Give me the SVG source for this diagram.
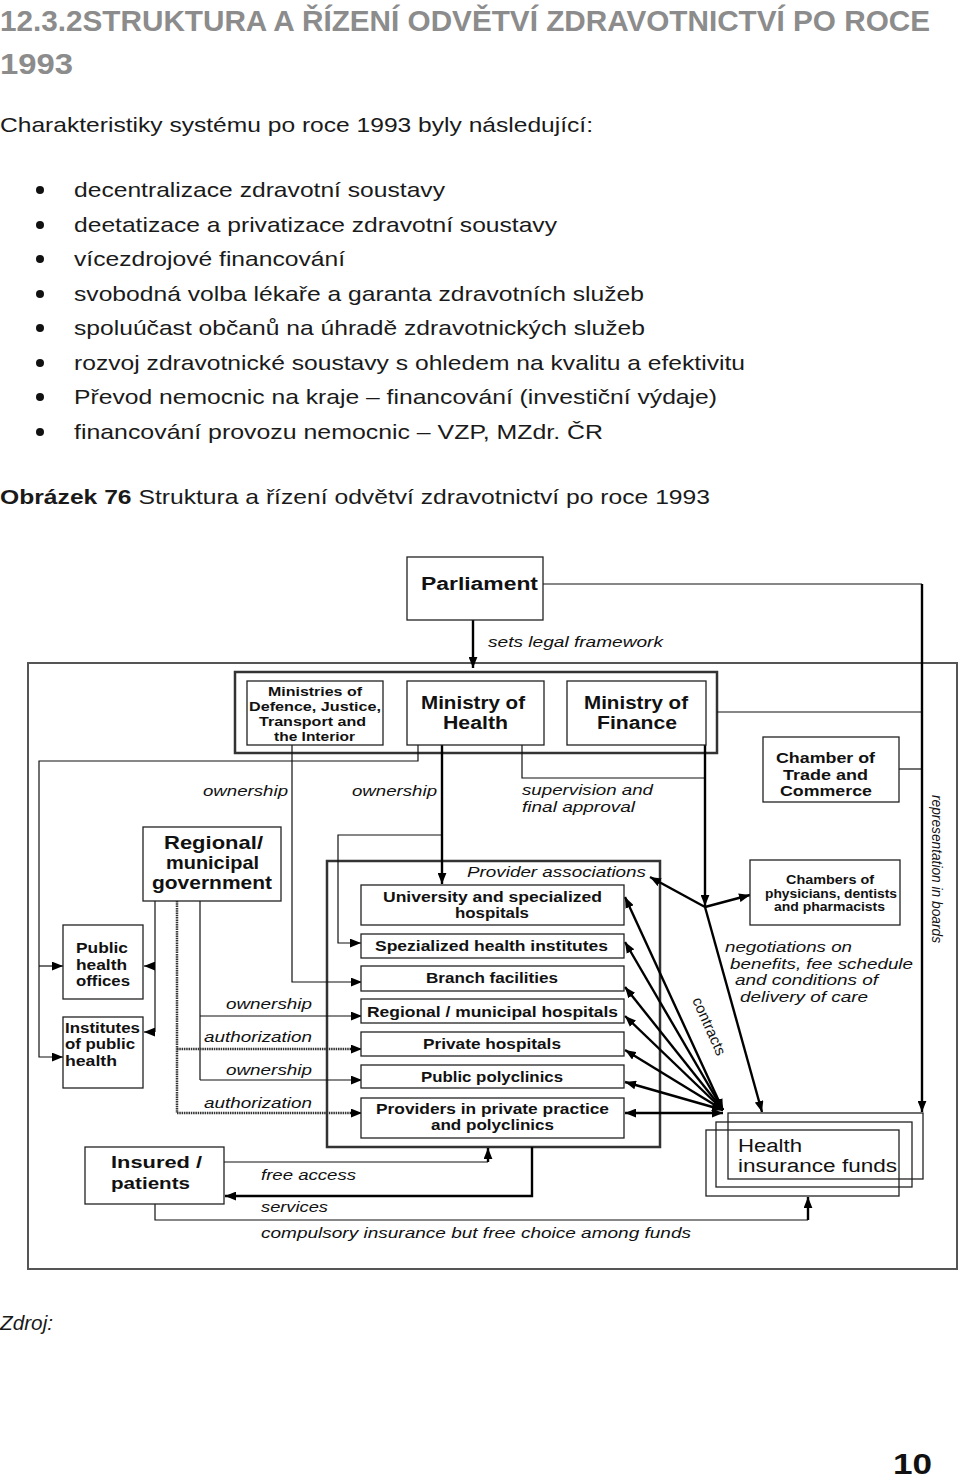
<svg xmlns="http://www.w3.org/2000/svg" width="960" height="1481" viewBox="0 0 960 1481">
<style>
.body{font-family:"Liberation Sans",Arial,sans-serif;font-size:21px;fill:#1a1a1a}
.title{font-family:"Liberation Sans Narrow","Liberation Sans",Arial,sans-serif;font-weight:bold;font-size:29px;fill:#8c8c8c}
.nb{font-family:"Liberation Sans",Arial,sans-serif;font-weight:bold;fill:#111}
.nr{font-family:"Liberation Sans",Arial,sans-serif;fill:#111}
.lab{font-family:"Liberation Sans",Arial,sans-serif;font-style:italic;font-size:14.5px;fill:#111}
.box{fill:#fff;stroke:#222;stroke-width:1.3}
.grp{fill:none;stroke:#333;stroke-width:2.5}
.thin{fill:none;stroke:#111;stroke-width:1.2}
.thick{fill:none;stroke:#000;stroke-width:2.4}
.dot{fill:none;stroke:#333;stroke-width:2.5;stroke-dasharray:1.5 0.8}
</style>
<defs>
<marker id="a" viewBox="0 0 10 8" refX="10" refY="4" markerWidth="11" markerHeight="9" markerUnits="userSpaceOnUse" orient="auto-start-reverse">
<path d="M0,0 L10,4 L0,8 z" fill="#000"/>
</marker>
</defs>
<rect width="960" height="1481" fill="#fff"/>

<!-- page text -->
<text class="title" x="0" y="31" textLength="930" lengthAdjust="spacingAndGlyphs">12.3.2STRUKTURA A ŘÍZENÍ ODVĚTVÍ ZDRAVOTNICTVÍ PO ROCE</text>
<text class="title" x="0" y="74" textLength="73" lengthAdjust="spacingAndGlyphs">1993</text>
<text class="body" x="0" y="132" textLength="593" lengthAdjust="spacingAndGlyphs">Charakteristiky systému po roce 1993 byly následující:</text>
<g fill="#111">
<circle cx="40" cy="190" r="4"/><circle cx="40" cy="225" r="4"/><circle cx="40" cy="259" r="4"/><circle cx="40" cy="294" r="4"/>
<circle cx="40" cy="328" r="4"/><circle cx="40" cy="363" r="4"/><circle cx="40" cy="397" r="4"/><circle cx="40" cy="432" r="4"/>
</g>
<text class="body" x="74" y="197" textLength="371" lengthAdjust="spacingAndGlyphs">decentralizace zdravotní soustavy</text>
<text class="body" x="74" y="232" textLength="483" lengthAdjust="spacingAndGlyphs">deetatizace a privatizace zdravotní soustavy</text>
<text class="body" x="74" y="266" textLength="271" lengthAdjust="spacingAndGlyphs">vícezdrojové financování</text>
<text class="body" x="74" y="301" textLength="570" lengthAdjust="spacingAndGlyphs">svobodná volba lékaře a garanta zdravotních služeb</text>
<text class="body" x="74" y="335" textLength="571" lengthAdjust="spacingAndGlyphs">spoluúčast občanů na úhradě zdravotnických služeb</text>
<text class="body" x="74" y="370" textLength="671" lengthAdjust="spacingAndGlyphs">rozvoj zdravotnické soustavy s ohledem na kvalitu a efektivitu</text>
<text class="body" x="74" y="404" textLength="643" lengthAdjust="spacingAndGlyphs">Převod nemocnic na kraje – financování (investiční výdaje)</text>
<text class="body" x="74" y="439" textLength="529" lengthAdjust="spacingAndGlyphs">financování provozu nemocnic – VZP, MZdr. ČR</text>
<text class="body" x="0" y="504" textLength="710" lengthAdjust="spacingAndGlyphs"><tspan font-weight="bold">Obrázek 76</tspan> Struktura a řízení odvětví zdravotnictví po roce 1993</text>
<text class="body" x="0" y="1330" font-style="italic" textLength="53" lengthAdjust="spacingAndGlyphs">Zdroj:</text>
<text class="title" x="893" y="1474" style="fill:#111" font-size="28" textLength="39" lengthAdjust="spacingAndGlyphs">10</text>

<!-- outer frame -->
<rect x="28" y="663" width="929" height="606" fill="none" stroke="#555" stroke-width="2"/>

<!-- group frames -->
<rect id="ministries-group" class="grp" x="235" y="672" width="482" height="81"/>
<rect id="provider-associations-frame" class="grp" x="327" y="861" width="333" height="286"/>

<!-- connectors -->
<g id="connectors">
<path class="thin" d="M543,584 H922"/>
<path class="thin" d="M717,712 H922"/>
<path class="thin" d="M899,769 H922"/>
<path class="thin" d="M522,745 V778 H705"/>
<path class="thin" d="M418,745 V761 H39 V1057 H63" marker-end="url(#a)"/>
<path class="thin" d="M39,966 H63" marker-end="url(#a)"/>
<path class="thin" d="M292,745 V982 H362" marker-end="url(#a)"/>
<path class="thin" d="M442,835 H338 V943 H361" marker-end="url(#a)"/>
<path class="thin" d="M155,901 V1032"/>
<path class="thin" d="M155,966 H144" marker-end="url(#a)"/>
<path class="thin" d="M155,1032 H144" marker-end="url(#a)"/>
<path class="thin" d="M200,901 V1080"/>
<path class="thin" d="M200,1016 H362" marker-end="url(#a)"/>
<path class="thin" d="M200,1080 H362" marker-end="url(#a)"/>
<path class="dot" d="M177,901 V1113"/>
<path class="dot" d="M177,1049 H352"/>
<path class="thin" d="M350,1049 H362" marker-end="url(#a)"/>
<path class="dot" d="M177,1113 H352"/>
<path class="thin" d="M350,1113 H362" marker-end="url(#a)"/>
<path class="thin" d="M224,1162 H488"/>
<path class="thick" d="M488,1162 V1148" marker-end="url(#a)"/>
<path class="thick" d="M532,1147 V1196 H225" marker-end="url(#a)"/>
<path class="thin" d="M155,1204 V1220 H808"/>
<path class="thick" d="M808,1220 V1197" marker-end="url(#a)"/>
<path class="thick" d="M473,620 V668" marker-end="url(#a)"/>
<path class="thick" d="M442,745 V884" marker-end="url(#a)"/>
<path class="thick" d="M705,745 V906" marker-end="url(#a)"/>
<path class="thick" d="M705,907 L750,895" marker-end="url(#a)"/>
<path class="thick" d="M705,907 L650,877" marker-end="url(#a)"/>
<path class="thick" d="M705,907 L762,1112" marker-end="url(#a)"/>
<path class="thick" d="M922,584 V1112" marker-end="url(#a)"/>
<g class="thick" marker-start="url(#a)" marker-end="url(#a)">
<path d="M723,1110 L625,897"/>
<path d="M723,1110 L625,942"/>
<path d="M723,1110 L625,987"/>
<path d="M723,1110 L625,1016"/>
<path d="M723,1110 L625,1050"/>
<path d="M723,1110 L625,1082"/>
<path d="M723,1113 L625,1113"/>
</g>
<text class="lab" x="488" y="647" font-size="15" textLength="175" lengthAdjust="spacingAndGlyphs">sets legal framework</text>
<text class="lab" x="203" y="796" textLength="85" lengthAdjust="spacingAndGlyphs">ownership</text>
<text class="lab" x="352" y="796" textLength="85" lengthAdjust="spacingAndGlyphs">ownership</text>
<text class="lab" x="522" y="795" textLength="131" lengthAdjust="spacingAndGlyphs">supervision and</text>
<text class="lab" x="522" y="812" textLength="113" lengthAdjust="spacingAndGlyphs">final approval</text>
<text class="lab" x="226" y="1009" textLength="86" lengthAdjust="spacingAndGlyphs">ownership</text>
<text class="lab" x="204" y="1042" textLength="108" lengthAdjust="spacingAndGlyphs">authorization</text>
<text class="lab" x="226" y="1075" textLength="86" lengthAdjust="spacingAndGlyphs">ownership</text>
<text class="lab" x="204" y="1108" textLength="108" lengthAdjust="spacingAndGlyphs">authorization</text>
<text class="lab" x="467" y="877" font-size="15" textLength="179" lengthAdjust="spacingAndGlyphs">Provider associations</text>
<text class="lab" x="725" y="952" font-size="15.5" textLength="127" lengthAdjust="spacingAndGlyphs">negotiations on</text>
<text class="lab" x="730" y="969" font-size="15.5" textLength="183" lengthAdjust="spacingAndGlyphs">benefits, fee schedule</text>
<text class="lab" x="735" y="985" font-size="15.5" textLength="143" lengthAdjust="spacingAndGlyphs">and conditions of</text>
<text class="lab" x="740" y="1002" font-size="15.5" textLength="128" lengthAdjust="spacingAndGlyphs">delivery of care</text>
<text class="lab" font-size="16" transform="translate(932,795) rotate(90)" textLength="148" lengthAdjust="spacingAndGlyphs">representation in boards</text>
<text class="nr" font-size="15" transform="translate(692,1000) rotate(66)" textLength="62" lengthAdjust="spacingAndGlyphs">contracts</text>
<text class="lab" x="261" y="1180" font-size="15" textLength="95" lengthAdjust="spacingAndGlyphs">free access</text>
<text class="lab" x="261" y="1212" font-size="15" textLength="67" lengthAdjust="spacingAndGlyphs">services</text>
<text class="lab" x="261" y="1238" font-size="15" textLength="430" lengthAdjust="spacingAndGlyphs">compulsory insurance but free choice among funds</text>
</g>

<g id="parliament">
<rect class="box" x="407" y="557" width="136" height="63"/>
<text class="nb" x="421" y="590" font-size="18" textLength="117" lengthAdjust="spacingAndGlyphs">Parliament</text>
</g>
<g id="ministries-other">
<rect class="box" x="247" y="681" width="136" height="64"/>
<text class="nb" font-size="13" x="268" y="696" textLength="94" lengthAdjust="spacingAndGlyphs">Ministries of</text>
<text class="nb" font-size="13" x="249" y="711" textLength="132" lengthAdjust="spacingAndGlyphs">Defence, Justice,</text>
<text class="nb" font-size="13" x="259" y="726" textLength="107" lengthAdjust="spacingAndGlyphs">Transport and</text>
<text class="nb" font-size="13" x="274" y="741" textLength="81" lengthAdjust="spacingAndGlyphs">the Interior</text>
</g>
<g id="ministry-health">
<rect class="box" x="407" y="681" width="137" height="64"/>
<text class="nb" font-size="18" x="421" y="709" textLength="104" lengthAdjust="spacingAndGlyphs">Ministry of</text>
<text class="nb" font-size="18" x="443" y="729" textLength="65" lengthAdjust="spacingAndGlyphs">Health</text>
</g>
<g id="ministry-finance">
<rect class="box" x="567" y="681" width="139" height="64"/>
<text class="nb" font-size="18" x="584" y="709" textLength="104" lengthAdjust="spacingAndGlyphs">Ministry of</text>
<text class="nb" font-size="18" x="597" y="729" textLength="80" lengthAdjust="spacingAndGlyphs">Finance</text>
</g>
<g id="chamber-trade">
<rect class="box" x="763" y="737" width="136" height="65"/>
<text class="nb" font-size="15" x="776" y="763" textLength="99" lengthAdjust="spacingAndGlyphs">Chamber of</text>
<text class="nb" font-size="15" x="783" y="780" textLength="85" lengthAdjust="spacingAndGlyphs">Trade and</text>
<text class="nb" font-size="15" x="780" y="796" textLength="92" lengthAdjust="spacingAndGlyphs">Commerce</text>
</g>
<g id="chambers-physicians">
<rect class="box" x="750" y="860" width="150" height="65"/>
<text class="nb" font-size="12" x="786" y="884" textLength="88" lengthAdjust="spacingAndGlyphs">Chambers of</text>
<text class="nb" font-size="12" x="765" y="898" textLength="132" lengthAdjust="spacingAndGlyphs">physicians, dentists</text>
<text class="nb" font-size="12" x="774" y="911" textLength="111" lengthAdjust="spacingAndGlyphs">and pharmacists</text>
</g>
<g id="regional-government">
<rect class="box" x="143" y="827" width="138" height="74"/>
<text class="nb" font-size="19" x="164" y="849" textLength="99" lengthAdjust="spacingAndGlyphs">Regional/</text>
<text class="nb" font-size="19" x="166" y="869" textLength="93" lengthAdjust="spacingAndGlyphs">municipal</text>
<text class="nb" font-size="19" x="152" y="889" textLength="120" lengthAdjust="spacingAndGlyphs">government</text>
</g>
<g id="public-health-offices">
<rect class="box" x="63" y="925" width="80" height="74"/>
<text class="nb" font-size="14" x="76" y="953" textLength="52" lengthAdjust="spacingAndGlyphs">Public</text>
<text class="nb" font-size="14" x="76" y="970" textLength="51" lengthAdjust="spacingAndGlyphs">health</text>
<text class="nb" font-size="14" x="76" y="986" textLength="54" lengthAdjust="spacingAndGlyphs">offices</text>
</g>
<g id="institutes-public-health">
<rect class="box" x="63" y="1017" width="80" height="71"/>
<text class="nb" font-size="14" x="65" y="1033" textLength="75" lengthAdjust="spacingAndGlyphs">Institutes</text>
<text class="nb" font-size="14" x="65" y="1049" textLength="70" lengthAdjust="spacingAndGlyphs">of public</text>
<text class="nb" font-size="14" x="65" y="1066" textLength="52" lengthAdjust="spacingAndGlyphs">health</text>
</g>
<g id="university-hospitals">
<rect class="box" x="361" y="885" width="263" height="40"/>
<text class="nb" font-size="15" x="383" y="902" textLength="219" lengthAdjust="spacingAndGlyphs">University and specialized</text>
<text class="nb" font-size="15" x="455" y="918" textLength="74" lengthAdjust="spacingAndGlyphs">hospitals</text>
</g>
<g id="specialized-institutes">
<rect class="box" x="361" y="934" width="263" height="24"/>
<text class="nb" font-size="15" x="375" y="951" textLength="233" lengthAdjust="spacingAndGlyphs">Spezialized health institutes</text>
</g>
<g id="branch-facilities">
<rect class="box" x="361" y="966" width="263" height="25"/>
<text class="nb" font-size="15" x="426" y="983" textLength="132" lengthAdjust="spacingAndGlyphs">Branch facilities</text>
</g>
<g id="regional-hospitals">
<rect class="box" x="361" y="999" width="263" height="24"/>
<text class="nb" font-size="15" x="367" y="1017" textLength="251" lengthAdjust="spacingAndGlyphs">Regional / municipal hospitals</text>
</g>
<g id="private-hospitals">
<rect class="box" x="361" y="1032" width="263" height="24"/>
<text class="nb" font-size="15" x="423" y="1049" textLength="138" lengthAdjust="spacingAndGlyphs">Private hospitals</text>
</g>
<g id="public-polyclinics">
<rect class="box" x="361" y="1065" width="263" height="23"/>
<text class="nb" font-size="15" x="421" y="1082" textLength="142" lengthAdjust="spacingAndGlyphs">Public polyclinics</text>
</g>
<g id="private-practice">
<rect class="box" x="361" y="1098" width="263" height="40"/>
<text class="nb" font-size="15" x="376" y="1114" textLength="233" lengthAdjust="spacingAndGlyphs">Providers in private practice</text>
<text class="nb" font-size="15" x="431" y="1130" textLength="123" lengthAdjust="spacingAndGlyphs">and polyclinics</text>
</g>
<g id="health-insurance-funds">
<rect fill="none" stroke="#222" stroke-width="1.3" x="728" y="1113" width="195" height="66"/>
<rect fill="none" stroke="#222" stroke-width="1.3" x="716" y="1122" width="196" height="65"/>
<rect fill="none" stroke="#222" stroke-width="1.3" x="706" y="1130" width="193" height="66"/>
<text class="nr" font-size="18" x="738" y="1152" textLength="64" lengthAdjust="spacingAndGlyphs">Health</text>
<text class="nr" font-size="18" x="738" y="1172" textLength="159" lengthAdjust="spacingAndGlyphs">insurance funds</text>
</g>
<g id="insured-patients">
<rect class="box" x="85" y="1147" width="139" height="57"/>
<text class="nb" font-size="17" x="111" y="1168" textLength="91" lengthAdjust="spacingAndGlyphs">Insured /</text>
<text class="nb" font-size="17" x="111" y="1189" textLength="79" lengthAdjust="spacingAndGlyphs">patients</text>
</g>
</svg>
